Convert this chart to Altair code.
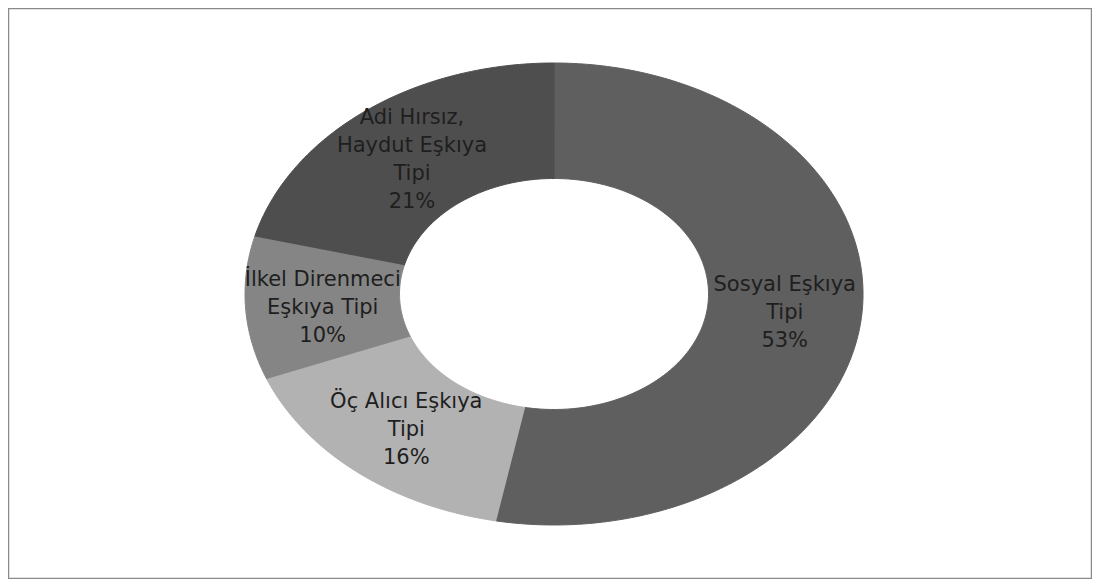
import numpy as np
import pandas as pd
import altair as alt

# Data (clockwise from 12 o'clock)
categories = ["Sosyal Eşkıya Tipi", "Öç Alıcı Eşkıya Tipi", "İlkel Direnmeci Eşkıya Tipi", "Adi Hırsız, Haydut Eşkıya Tipi"]
values = [53, 16, 10, 21]
label_lines = [
    "Sosyal Eşkıya\nTipi\n53%",
    "Öç Alıcı Eşkıya\nTipi\n16%",
    "İlkel Direnmeci\nEşkıya Tipi\n10%",
    "Adi Hırsız,\nHaydut Eşkıya\nTipi\n21%",
]
colors = ["#5f5f5f", "#b2b2b2", "#858585", "#4e4e4e"]

R_OUT = 1.0
R_IN = 0.5
LINE_H = 28

# Build ring-sector outlines from the values (angles clockwise from top)
total = float(sum(values))
rows = []
labels = []
start = 0.0
for cat, v, lab in zip(categories, values, label_lines):
    a0 = start / total * 2 * np.pi
    a1 = (start + v) / total * 2 * np.pi
    n = max(8, int(v * 4))
    outer = np.linspace(a0, a1, n)
    inner = outer[::-1]
    i = 0
    for a in outer:
        rows.append({"cat": cat, "i": i, "x": R_OUT * np.sin(a), "y": R_OUT * np.cos(a)})
        i += 1
    for a in inner:
        rows.append({"cat": cat, "i": i, "x": R_IN * np.sin(a), "y": R_IN * np.cos(a)})
        i += 1
    am = (a0 + a1) / 2
    rm = (R_OUT + R_IN) / 2
    labels.append({"cat": cat, "label": lab, "nlines": lab.count("\n") + 1,
                   "x": rm * np.sin(am), "y": rm * np.cos(am)})
    start += v

shapes = pd.DataFrame(rows)
lab_df = pd.DataFrame(labels)

xs = alt.Scale(domain=[-1.767, 1.741], nice=False, zero=False)
ys = alt.Scale(domain=[-1.2338, 1.2381], nice=False, zero=False)
cs = alt.Scale(domain=categories, range=colors)

ring = alt.Chart(shapes).mark_line(filled=True, strokeWidth=1, interpolate="linear").encode(
    x=alt.X("x:Q", scale=xs, axis=None),
    y=alt.Y("y:Q", scale=ys, axis=None),
    color=alt.Color("cat:N", scale=cs, legend=None),
    stroke=alt.Stroke("cat:N", scale=cs, legend=None),
    order=alt.Order("i:Q"),
)

layers = [ring]
for nl in sorted(lab_df["nlines"].unique()):
    sub = lab_df[lab_df["nlines"] == nl]
    layers.append(
        alt.Chart(sub).mark_text(
            font="DejaVu Sans", fontSize=21, color="#1e1e1e", lineBreak="\n", lineHeight=LINE_H,
            align="center", baseline="middle", dy=-(nl - 1) / 2 * LINE_H + 3,
        ).encode(
            x=alt.X("x:Q", scale=xs, axis=None),
            y=alt.Y("y:Q", scale=ys, axis=None),
            text="label:N",
        )
    )

chart = alt.layer(*layers).properties(
    width=1084, height=571, padding=0, autosize=alt.AutoSizeParams(type="none"),
).configure_view(stroke="#8a8a8a", strokeWidth=2.5)

chart.save("out.html", embed_options={"renderer": "svg", "actions": False})
